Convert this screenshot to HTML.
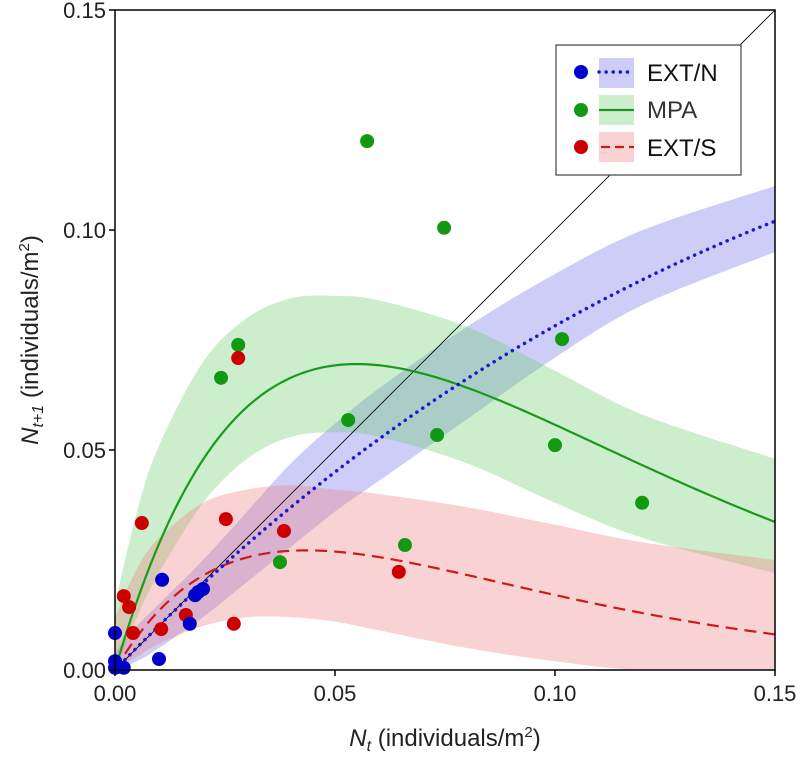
<!DOCTYPE html>
<html><head><meta charset="utf-8"><style>
html,body{margin:0;padding:0;background:#fff;}
svg{display:block;font-family:"Liberation Sans",sans-serif;}
</style></head><body>
<svg id="chart" width="800" height="759"></svg>
<script>
const bandX=[0,0.005,0.01,0.02,0.03,0.04,0.05,0.06,0.08,0.10,0.12,0.15];
const greenUpper=[0.015,0.036,0.051,0.07,0.08,0.0845,0.085,0.084,0.078,0.068,0.058,0.048];
const greenLower=[0,0.012,0.022,0.038,0.048,0.053,0.054,0.053,0.047,0.038,0.03,0.022];
const redUpper=[0.012,0.023,0.03,0.038,0.041,0.042,0.041,0.04,0.037,0.033,0.029,0.025];
const redLower=[0,0.003,0.006,0.01,0.012,0.012,0.011,0.009,0.005,0.002,0,0];
const blueUpper=[0.004,0.01,0.015,0.025,0.036,0.047,0.056,0.064,0.078,0.09,0.1,0.11];
const blueLower=[0,0.002,0.005,0.012,0.02,0.028,0.036,0.043,0.057,0.071,0.083,0.095];
const greenParams=[3.44,18.2];
const redParams=[1.7,23];
const blueParams=[1.035,2.8];
const greenX=[0.0573,0.0748,0.1016,0.028,0.0241,0.053,0.0732,0.1,0.1198,0.0659,0.0375];
const greenY=[0.1202,0.1005,0.0752,0.0739,0.0664,0.0568,0.0534,0.0511,0.038,0.0284,0.0245];
const redX=[0.028,0.0061,0.0252,0.0384,0.002,0.0032,0.0041,0.0105,0.0161,0.027,0.0645];
const redY=[0.0709,0.0334,0.0343,0.0316,0.0168,0.0143,0.0084,0.0093,0.0125,0.0105,0.0223];
const blueX=[0.0107,0.02,0.0189,0.0182,0.017,0,0.01,0,0.0007,0.002,0];
const blueY=[0.0205,0.0184,0.0177,0.017,0.0105,0.0084,0.0025,0.002,0.0007,0.0005,0.0005];
const xTicks=[0,0.05,0.10,0.15];
const xTickLabels=["0.00","0.05","0.10","0.15"];
const yTicks=[0,0.05,0.10,0.15];
const yTickLabels=["0.00","0.05","0.10","0.15"];

const NS="http://www.w3.org/2000/svg";
const svg=document.getElementById('chart');
const L=115,R=775,T=10,B=670;
const sx=v=>L+(v/0.15)*(R-L);
const sy=v=>B-(v/0.15)*(B-T);
function mk(tag,attrs,parent){const e=document.createElementNS(NS,tag);for(const k in attrs)e.setAttribute(k,attrs[k]);(parent||svg).appendChild(e);return e;}

const defs=mk('defs',{});
const cp=mk('clipPath',{id:'clip'},defs);
mk('rect',{x:L,y:T,width:R-L,height:B-T},cp);
const plot=mk('g',{'clip-path':'url(#clip)'});



function smooth(P){ // catmull-rom -> bezier, P array of [x,y]
  let d='';
  for(let i=0;i<P.length-1;i++){
    const p0=P[i-1]||P[i],p1=P[i],p2=P[i+1],p3=P[i+2]||P[i+1];
    const c1=[p1[0]+(p2[0]-p0[0])/6,p1[1]+(p2[1]-p0[1])/6];
    const c2=[p2[0]-(p3[0]-p1[0])/6,p2[1]-(p3[1]-p1[1])/6];
    d+='C'+c1.join(',')+' '+c2.join(',')+' '+p2.join(',');
  }
  return d;
}
function band(up,lo,fill,name){
  const U=bandX.map((x,i)=>[sx(x),sy(up[i])]);
  const Lo=bandX.map((x,i)=>[sx(x),sy(lo[i])]).reverse();
  const d='M'+U[0].join(',')+smooth(U)+'L'+Lo[0].join(',')+smooth(Lo)+'Z';
  const p=mk('path',{d:d,fill:fill,'fill-opacity':0.35},plot);
  
  
}
band(blueUpper,blueLower,'#7070e8','ext-n-band');
band(greenUpper,greenLower,'#6ccf6c','mpa-band');
band(redUpper,redLower,'#ee8080','ext-s-band');

const diag=mk('line',{x1:sx(0),y1:sy(0),x2:sx(0.15),y2:sy(0.15),stroke:'#000','stroke-width':0.8},plot);



function curve(par,stroke,dash,w,name,round){
  const pts=[];for(let i=0;i<=150;i++){const x=i/1000;pts.push(sx(x)+','+sy(par[0]*x*Math.exp(-par[1]*x)));}
  const p=mk('path',{d:'M'+pts.join('L'),fill:'none',stroke:stroke,'stroke-width':w,'stroke-dasharray':dash,'stroke-linecap':round?'round':'butt'},plot);
  
  
}
curve(greenParams,'#1a9a1a','none',2.2,'mpa-curve',false);
curve(redParams,'#cc1a1a','12 7',2.2,'ext-s-curve',false);
curve(blueParams,'#1a1acc','0.1 7',3.5,'ext-n-curve',true);

function pts(xs,ys,fill,name){
  xs.forEach((x,i)=>{const c=mk('circle',{cx:sx(x),cy:sy(ys[i]),r:7,fill:fill});
    
    });
}
pts(greenX,greenY,'#119911','mpa-point');
pts(redX,redY,'#cc0000','ext-s-point');
pts(blueX,blueY,'#0000cc','ext-n-point');

const frame=mk('rect',{x:L,y:T,width:R-L,height:B-T,fill:'none',stroke:'#000','stroke-width':1.5});



xTicks.forEach((v,i)=>{
  mk('line',{x1:sx(v),y1:B,x2:sx(v),y2:B+6,stroke:'#000','stroke-width':1.5});
  const t=mk('text',{x:sx(v),y:B+31,'text-anchor':'middle','font-size':22,fill:'#222'});t.textContent=xTickLabels[i];
  
  
});
yTicks.forEach((v,i)=>{
  mk('line',{x1:L-6,y1:sy(v),x2:L,y2:sy(v),stroke:'#000','stroke-width':1.5});
  const t=mk('text',{x:L-9,y:sy(v)+8,'text-anchor':'end','font-size':22,fill:'#222'});t.textContent=yTickLabels[i];
  
  
});
</script>
<svg width="800" height="759" style="position:absolute;left:0;top:0;font-family:'Liberation Sans',sans-serif">
<text x="445" y="746" text-anchor="middle" font-size="24" fill="#222"><tspan font-style="italic">N</tspan><tspan font-style="italic" font-size="16" dy="5">t</tspan><tspan dy="-5"> (individuals/m</tspan><tspan font-size="15" dy="-9">2</tspan><tspan dy="9">)</tspan></text>
<text transform="translate(38,340) rotate(-90)" text-anchor="middle" font-size="24" fill="#222"><tspan font-style="italic">N</tspan><tspan font-style="italic" font-size="16" dy="5">t+1</tspan><tspan dy="-5"> (individuals/m</tspan><tspan font-size="15" dy="-9">2</tspan><tspan dy="9">)</tspan></text>
<g>
<rect x="556" y="45" width="185" height="130" fill="#fff" stroke="#444" stroke-width="1.2"/>
<circle cx="581" cy="72" r="7" fill="#0000cc"/><rect x="599" y="58" width="35" height="30" fill="#7070e8" fill-opacity="0.35"/>
<line x1="599" y1="72" x2="634" y2="72" stroke="#1a1acc" stroke-width="3.5" stroke-dasharray="0.1 7" stroke-linecap="round"/>
<text x="647" y="81" font-size="24" fill="#111">EXT/N</text>
<circle cx="581" cy="110" r="7" fill="#119911"/><rect x="599" y="95" width="35" height="30" fill="#6ccf6c" fill-opacity="0.35"/>
<line x1="599" y1="110" x2="634" y2="110" stroke="#1a9a1a" stroke-width="2.2"/>
<text x="647" y="118" font-size="24" fill="#333">MPA</text>
<circle cx="581" cy="147" r="7" fill="#cc0000"/><rect x="599" y="132" width="35" height="30" fill="#ee8080" fill-opacity="0.35"/>
<line x1="601" y1="147" x2="634" y2="147" stroke="#cc1a1a" stroke-width="2.2" stroke-dasharray="9 5"/>
<text x="647" y="156" font-size="24" fill="#111">EXT/S</text>
</g>
</svg>
</body></html>
